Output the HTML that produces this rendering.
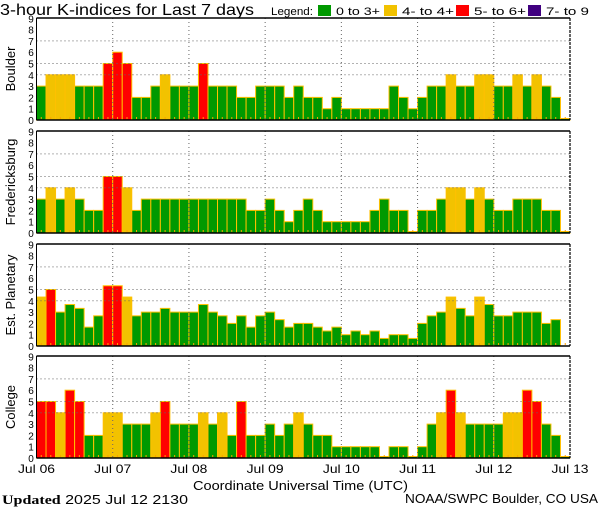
<!DOCTYPE html>
<html><head><meta charset="utf-8"><style>
html,body{margin:0;padding:0;background:#fff;}
svg{display:block;font-family:"Liberation Sans",sans-serif;}
</style></head><body>
<svg id="s" width="600" height="510" xmlns="http://www.w3.org/2000/svg">
<text x="0" y="15" font-size="16" fill="#000" textLength="254" lengthAdjust="spacingAndGlyphs">3-hour K-indices for Last 7 days</text>
<text x="271" y="15" font-size="11" fill="#000" textLength="42" lengthAdjust="spacingAndGlyphs">Legend:</text>
<rect x="318" y="5" width="13" height="11" fill="#009900"/>
<text x="336" y="15" font-size="11" textLength="44" lengthAdjust="spacingAndGlyphs">0 to 3+</text>
<rect x="384" y="5" width="13" height="11" fill="#f2c200"/>
<text x="402" y="15" font-size="11" textLength="52" lengthAdjust="spacingAndGlyphs">4- to 4+</text>
<rect x="456" y="5" width="13" height="11" fill="#ff0000"/>
<text x="474" y="15" font-size="11" textLength="52" lengthAdjust="spacingAndGlyphs">5- to 6+</text>
<rect x="528" y="5" width="13" height="11" fill="#400080"/>
<text x="546" y="15" font-size="11" textLength="43" lengthAdjust="spacingAndGlyphs">7- to 9</text>
<g id="g"></g>
<g font-size="12" id="xl"></g>
<text x="193" y="490" font-size="13" textLength="215" lengthAdjust="spacingAndGlyphs">Coordinate Universal Time (UTC)</text>
<text x="2" y="504" font-size="13" textLength="186" lengthAdjust="spacingAndGlyphs"><tspan font-family="Liberation Serif" font-weight="bold">Updated</tspan> 2025 Jul 12 2130</text>
<text x="405" y="503" font-size="13" textLength="193" lengthAdjust="spacingAndGlyphs">NOAA/SWPC Boulder, CO USA</text>
</svg>
<script>
var data=[
["Boulder",[3,4,4,4,3,3,3,5,6,5,2,2,3,4,3,3,3,5,3,3,3,2,2,3,3,3,2,3,2,2,1,2,1,1,1,1,1,3,2,1,2,3,3,4,3,3,4,4,3,3,4,3,4,3,2,0.1]],
["Fredericksburg",[3,4,3,4,3,2,2,5,5,4,2,3,3,3,3,3,3,3,3,3,3,3,2,2,3,2,1,2,3,2,1,1,1,1,1,2,3,2,2,0.1,2,2,3,4,4,3,4,3,2,2,3,3,3,2,2,0.1]],
["Est. Planetary",[4.33,5,3,3.67,3.33,1.67,2.67,5.33,5.33,4.33,2.67,3,3,3.33,3,3,3,3.67,3,2.67,2,2.67,1.67,2.67,3,2.33,1.67,2,2,1.67,1.33,1.67,1,1.33,1,1.33,0.67,1,1,0.67,2,2.67,3,4.33,3.33,2.67,4.33,3.67,2.67,2.67,3,3,3,2,2.33,0]],
["College",[5,5,4,6,5,2,2,4,4,3,3,3,4,5,3,3,3,4,3,4,2,5,2,2,3,2,3,4,3,2,2,1,1,1,1,1,0.1,1,1,0.1,1,3,4,6,4,3,3,3,3,4,4,6,5,3,2,0.1]]
];
var bottoms=[120,233,346,458],u=11.3,x0=36.5,x1=570,bw=(x1-x0)/56,h="";
function col(v){return v>=7?"#400080":v>=5?"#ff0000":v>=4?"#f2c200":"#009900";}
data.forEach(function(d,i){
 var b=bottoms[i],t=b-102;
 d[1].forEach(function(v,j){
  if(v<=0)return;
  var x=x0+j*bw,hh=Math.max(v*u,1.5);
  h+='<rect x="'+x.toFixed(2)+'" y="'+(b-hh).toFixed(2)+'" width="'+bw.toFixed(2)+'" height="'+hh.toFixed(2)+'" fill="'+col(v)+'" stroke="#ffc000" stroke-width="1"/>';
 });
 for(var j=0;j<56;j++){var x=x0+j*bw+bw/2;h+='<rect x="'+(x-0.5).toFixed(2)+'" y="'+(b-3)+'" width="1" height="2" fill="#ffa000"/>';}
 [4,5,7].forEach(function(k){var y=b-k*u;h+='<line x1="'+x0+'" x2="'+x1+'" y1="'+y+'" y2="'+y+'" stroke="#666" stroke-dasharray="1,3"/>';});
 for(var k=1;k<7;k++){var x=x0+k*bw*8;h+='<line x1="'+x+'" x2="'+x+'" y1="'+t+'" y2="'+b+'" stroke="#666" stroke-dasharray="1,3"/>';}
 h+='<line x1="'+x0+'" x2="'+x1+'" y1="'+t+'" y2="'+t+'" stroke="#000" stroke-width="1.5"/>';
 h+='<line x1="'+x0+'" x2="'+x1+'" y1="'+b+'" y2="'+b+'" stroke="#000" stroke-width="1.5"/>';
 h+='<line x1="'+x0+'" x2="'+x0+'" y1="'+t+'" y2="'+b+'" stroke="#000" stroke-width="1"/>';
 h+='<line x1="'+x1+'" x2="'+x1+'" y1="'+t+'" y2="'+b+'" stroke="#000" stroke-width="1.2" stroke-dasharray="3,1"/>';
 for(var k=0;k<=9;k++){h+='<text x="31" y="'+(b-k*u+4).toFixed(1)+'" font-size="10" text-anchor="middle">'+k+'</text>';}
 var cy=t+51;
 h+='<text transform="translate(15,'+cy+') rotate(-90)" font-size="13" text-anchor="middle">'+d[0]+'</text>';
});
document.getElementById("g").innerHTML=h;
var lab=["Jul 06","Jul 07","Jul 08","Jul 09","Jul 10","Jul 11","Jul 12","Jul 13"],xs="";
lab.forEach(function(l,k){var x=x0+k*bw*8;xs+='<text x="'+(x-18.5).toFixed(1)+'" y="473" textLength="37" lengthAdjust="spacingAndGlyphs">'+l+'</text>';});
document.getElementById("xl").innerHTML=xs;
</script>
</body></html>
